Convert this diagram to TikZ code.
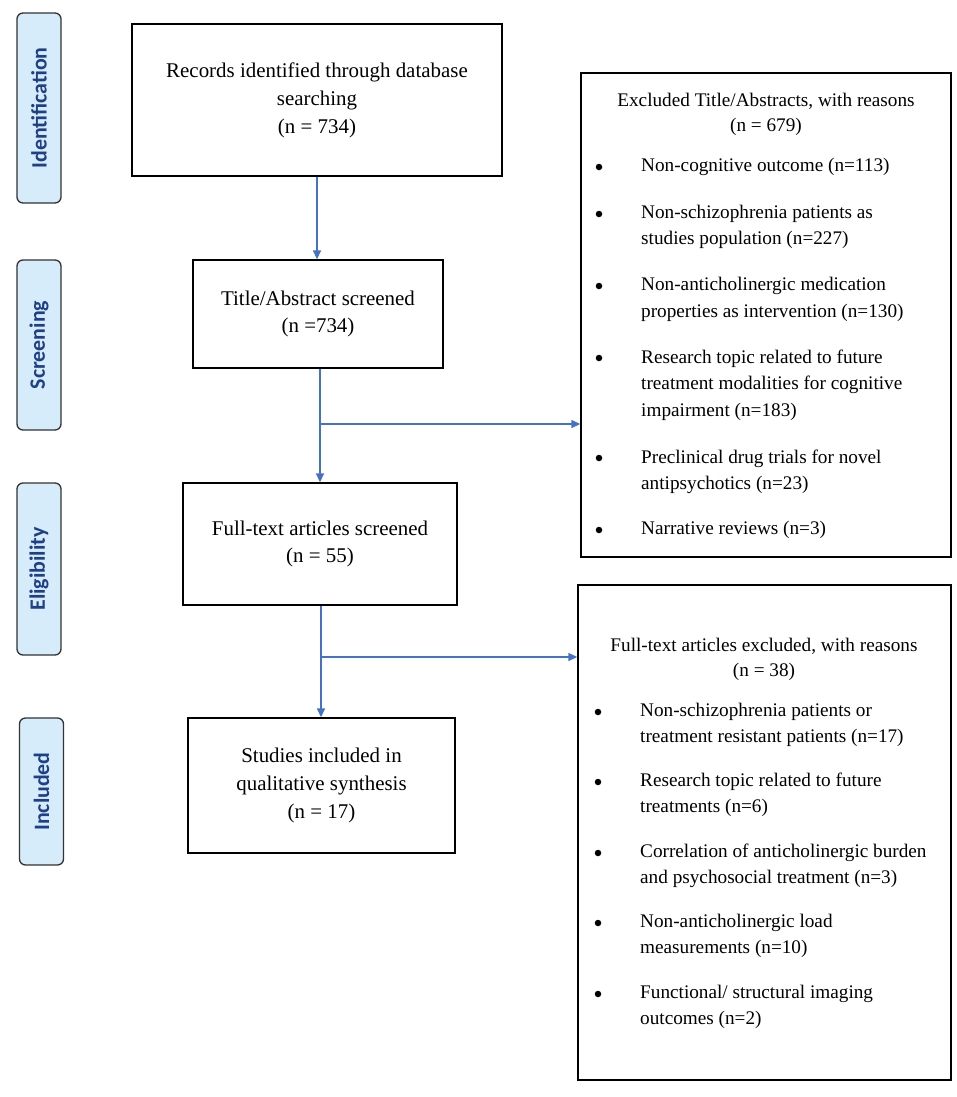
\documentclass[tikz,border=0pt]{standalone}
\usepackage{fontspec}
\setmainfont{Liberation Serif}
\newfontfamily\labfont{Carlito}
\usetikzlibrary{arrows.meta}
\definecolor{arrowblue}{HTML}{4472C4}
\definecolor{labfill}{HTML}{D6ECFB}
\definecolor{labtext}{HTML}{1F3F86}
\begin{document}
\begin{tikzpicture}[x=1bp,y=-1bp,
  stage/.style={draw=black!80, line width=1.3bp, rounded corners=6bp, fill=labfill,
    minimum height=44bp, inner sep=0pt, text=labtext,
    font=\labfont\bfseries\fontsize{22}{24}\selectfont, rotate=90},
  flowbox/.style={draw=black, line width=1.4bp, align=center, inner sep=0pt,
    font=\fontsize{21}{28}\selectfont},
  exbox/.style={draw=black, line width=1.4bp, inner sep=0pt},
  exhead/.style={align=center, inner sep=0pt, font=\fontsize{19.3}{25}\selectfont},
  exitem/.style={align=left, anchor=west, inner sep=0pt, font=\fontsize{19.3}{26.5}\selectfont},
  bul/.style={circle, fill=black, inner sep=0pt, minimum size=6.5bp},
  conn/.style={draw=arrowblue, line width=1.4bp},
  arr/.style={conn, -{Triangle[length=9bp,width=8bp]}}
]
\useasboundingbox (0,0) rectangle (957,1097);

% stage labels
\node[stage, minimum width=190bp] (sid) at (39,108) {Identification};
\node[stage, minimum width=170bp] (sscr) at (39,345) {Screening};
\node[stage, minimum width=172bp] (seli) at (39,569) {Eligibility};
\node[stage, minimum width=147bp] (sinc) at (41.5,791.5) {Included};

% main flow boxes
\node[flowbox, minimum width=370bp, minimum height=152bp] (b1) at (317,100)
  {Records identified through database\\searching\\(n = 734)};
\node[flowbox, minimum width=250bp, minimum height=108bp] (b2) at (318,314)
  {Title/Abstract screened\\(n =734)};
\node[flowbox, minimum width=274bp, minimum height=122bp] (b3) at (320,544)
  {Full-text articles screened\\(n = 55)};
\node[flowbox, minimum width=267bp, minimum height=135bp] (b4) at (321.5,785.5)
  {Studies included in\\qualitative synthesis\\(n = 17)};

% exclusion box 1
\node[exbox, minimum width=370bp, minimum height=484bp] (ex1) at (766,315) {};
\node[exhead] (ex1h) at (766,114.5) {Excluded Title/Abstracts, with reasons\\(n = 679)};
\node[bul] (e1b1) at (599,167) {};
\node[exitem] (e1i1) at (641,167) {Non-cognitive outcome (n=113)};
\node[bul] (e1b2) at (599,214) {};
\node[exitem] (e1i2) at (641,227) {Non-schizophrenia patients as\\studies population (n=227)};
\node[bul] (e1b3) at (599,286) {};
\node[exitem] (e1i3) at (641,299.5) {Non-anticholinergic medication\\properties as intervention (n=130)};
\node[bul] (e1b4) at (599,358) {};
\node[exitem] (e1i4) at (641,385) {Research topic related to future\\treatment modalities for cognitive\\impairment (n=183)};
\node[bul] (e1b5) at (599,458) {};
\node[exitem] (e1i5) at (641,471.5) {Preclinical drug trials for novel\\antipsychotics (n=23)};
\node[bul] (e1b6) at (599,530) {};
\node[exitem] (e1i6) at (641,530) {Narrative reviews (n=3)};

% exclusion box 2
\node[exbox, minimum width=373bp, minimum height=495bp] (ex2) at (764.5,832.5) {};
\node[exhead] (ex2h) at (764,659) {Full-text articles excluded, with reasons\\(n = 38)};
\node[bul] (e2b1) at (598,712) {};
\node[exitem] (e2i1) at (640,725) {Non-schizophrenia patients or\\treatment resistant patients (n=17)};
\node[bul] (e2b2) at (598,782) {};
\node[exitem] (e2i2) at (640,795) {Research topic related to future\\treatments (n=6)};
\node[bul] (e2b3) at (598,853) {};
\node[exitem] (e2i3) at (640,866) {Correlation of anticholinergic burden\\and psychosocial treatment (n=3)};
\node[bul] (e2b4) at (598,923) {};
\node[exitem] (e2i4) at (640,936) {Non-anticholinergic load\\measurements (n=10)};
\node[bul] (e2b5) at (598,994) {};
\node[exitem] (e2i5) at (640,1007) {Functional/ structural imaging\\outcomes (n=2)};

% connectors
\coordinate (br1) at (320,424);
\coordinate (br2) at (321,657);
\draw[arr] (b1.south) -- (b1.south |- b2.north);
\draw[arr] (br1 |- b2.south) -- (br1 |- b3.north);
\draw[arr] (br1) -- (br1 -| ex1.west);
\draw[arr] (br2 |- b3.south) -- (br2 |- b4.north);
\draw[arr] (br2) -- (br2 -| ex2.west);
\end{tikzpicture}
\end{document}
